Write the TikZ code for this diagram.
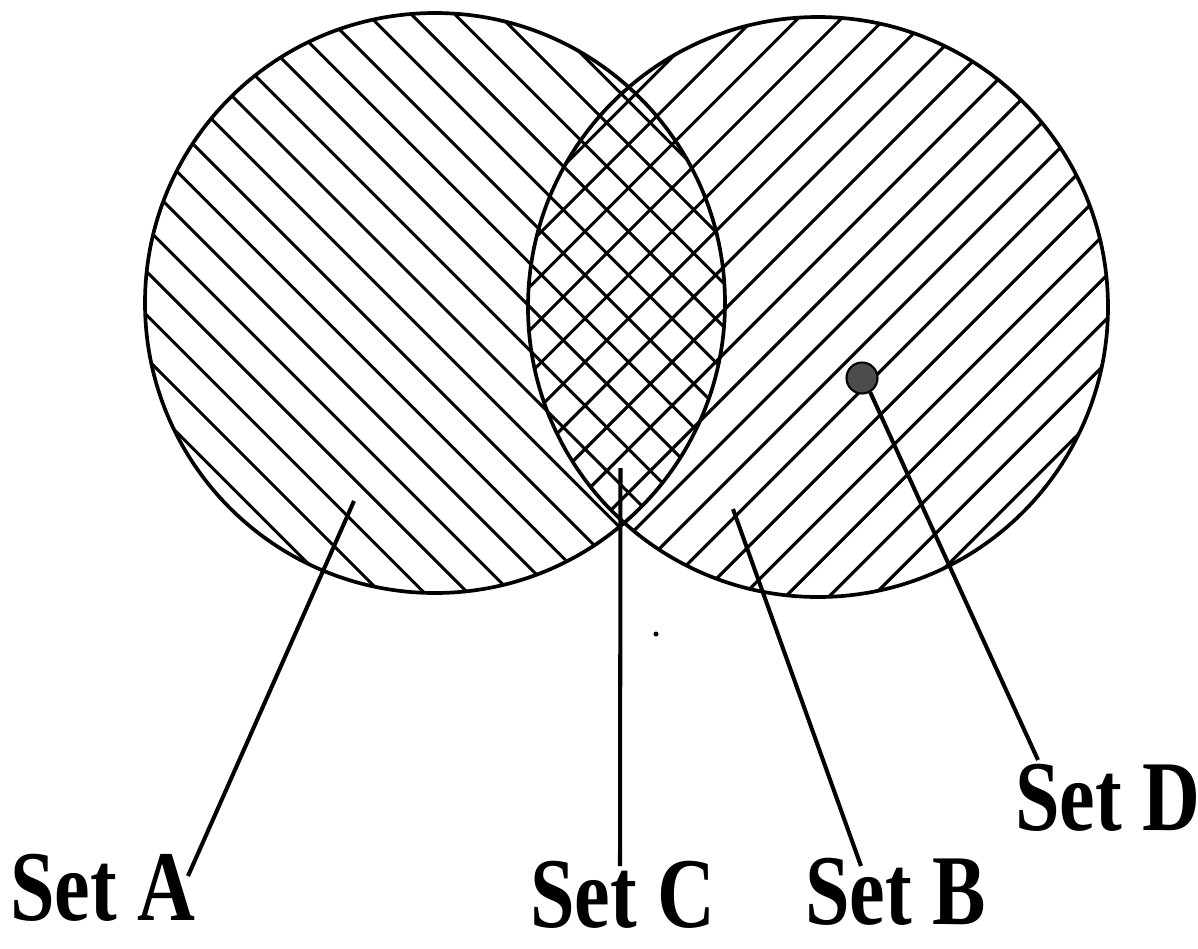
\documentclass[tikz,border=0pt]{standalone}
\usepackage{graphicx}
\usepackage{fontspec}
\setmainfont{Liberation Serif}
\begin{document}
\begin{tikzpicture}[x=0.02cm, y=-0.02cm,
  outline/.style={line width=2.1pt},
  hatch/.style={line width=1.8pt},
  leader/.style={line width=2.3pt},
  setlabel/.style={font=\fontsize{57}{60}\selectfont\bfseries, anchor=base west, inner sep=0pt}]
\useasboundingbox (0,0) rectangle (1198,948);

% circle centres and radius (pixel units, y pointing down)
\coordinate (cA) at (435,303);
\coordinate (cB) at (818,307);
\def\rad{290}

% Set A: hatching falling to the right
\begin{scope}
  \clip (cA) circle [radius=\rad];
  \foreach \k in {-13,...,9} {
    \pgfmathsetmacro{\c}{223+43.5*\k}
    \draw[hatch] (\c-20,-20) -- (\c+640,640);
  }
\end{scope}

% Set B: hatching rising to the right
\begin{scope}
  \clip (cB) circle [radius=\rad];
  \foreach \k in {-3,...,19} {
    \pgfmathsetmacro{\c}{773+43.5*\k}
    \draw[hatch] (\c+20,-20) -- (\c-640,640);
  }
\end{scope}

% outlines
\draw[outline] (cA) circle [radius=\rad];
\draw[outline] (cB) circle [radius=\rad];

% Set D: a single point
\node (dotD) [circle, draw, line width=1.2pt, fill=black!70, inner sep=0pt, minimum size=0.62cm] at (862,378) {};

% stray speck
\fill (656,634) circle [radius=2.5];

% labels
\node (labA) [setlabel] at (10,920) {\scalebox{0.8}[1]{Set A}};
\node (labC) [setlabel] at (530,927) {\scalebox{0.8}[1]{Set C}};
\node (labB) [setlabel] at (805,924) {\scalebox{0.8}[1]{Set B}};
\node (labD) [setlabel] at (1015,830) {\scalebox{0.8}[1]{Set D}};

% leader ends
\coordinate (pA) at (354,501);
\coordinate (eA) at (188,876);
\coordinate (pC) at (620.5,468);
\coordinate (eC) at (620,866);
\coordinate (pB) at (733,509);
\coordinate (eB) at (861,866);
\coordinate (eD) at (1038,760);

\draw[leader] (pA) -- (eA);
\draw[leader] (pC) -- (eC);
\draw[leader] (pB) -- (eB);
\draw[leader] (dotD.-60) -- (eD);
\end{tikzpicture}
\end{document}
